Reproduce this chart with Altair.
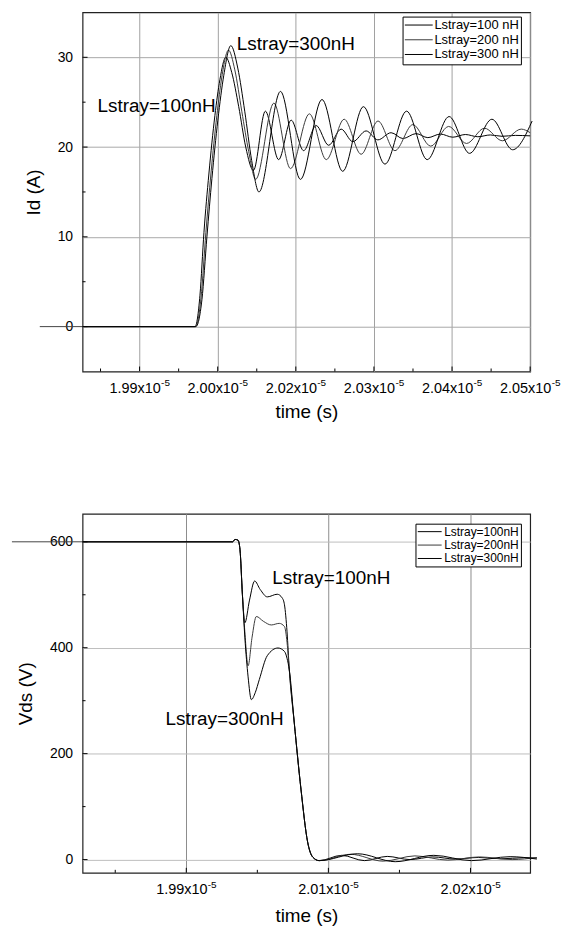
import altair as alt
import pandas as pd

FONT = "Liberation Sans"

# ---------------- top panel: Id (A) vs time (time in ns) ----------------
top_names = ["Lstray=100 nH", "Lstray=200 nH", "Lstray=300 nH"]

id100_t = [19827, 19971, 19977.3, 19982.4, 19988.7, 19996.4, 20002.8, 20010.4, 20018.0, 20026.9, 20035.9, 20045.7,
           20061, 20078, 20094, 20110, 20126, 20142, 20158, 20173, 20190, 20205, 20222, 20237, 20254, 20269,
           20285, 20301, 20317, 20333, 20349, 20364, 20381, 20400]
id100_v = [0, 0, 3.5, 10.5, 17, 23.5, 27.5, 30.0, 28.3, 24.5, 20.0, 17.4,
           24.0, 18.6, 23.0, 19.6, 22.4, 20.2, 22.0, 20.6, 21.8, 20.8, 21.6, 20.95, 21.5, 21.05,
           21.45, 21.1, 21.4, 21.15, 21.35, 21.2, 21.3, 21.25]

id200_t = [19827, 19971.5, 19978.6, 19984.9, 19991.3, 19998.9, 20005.3, 20013.8, 20021.9, 20030.8, 20039.7, 20048.6,
           20071.9, 20093.2, 20117.4, 20139.0, 20161.9, 20183.6, 20205.2, 20226.9, 20249.8, 20272.7, 20295.6,
           20318.5, 20341.5, 20364.4, 20388.6, 20400]
id200_v = [0, 0, 3.2, 10.5, 17, 23.5, 27.8, 30.8, 28.6, 24, 19.5, 16.4,
           24.9, 17.6, 23.7, 18.6, 23.1, 19.2, 22.9, 19.6, 22.5, 20.1, 22.3,
           20.4, 22.1, 20.7, 22.0, 21.6]

id300_t = [19827, 19972, 19979.8, 19986.2, 19992.6, 20000.2, 20007.8, 20016.8, 20025.7, 20034.6, 20043.5, 20052.8,
           20080.4, 20105.9, 20133.5, 20160.0, 20186.5, 20214.1, 20241.8, 20268.2, 20296.2, 20322.4, 20351.0,
           20377.5, 20402.5]
id300_v = [0, 0, 3.0, 10, 16.5, 23, 28, 31.3, 28.8, 24, 18.5, 15.0,
           26.2, 16.4, 25.3, 17.3, 24.5, 18.1, 24.0, 18.6, 23.4, 19.3, 23.1,
           19.7, 22.9]

top_x_major = [19900, 20000, 20100, 20200, 20300, 20400]
top_x_base = ["1.99x10", "2.00x10", "2.02x10", "2.03x10", "2.04x10", "2.05x10"]
top_x_exp = ["-5", "-5", "-5", "-5", "-5", "-5"]
top_x_minor = [19850, 19950, 20050, 20150, 20250, 20350]
top_y_major = [0, 10, 20, 30]
top_y_minor = [5, 15, 25]
top_x_domain = [19827, 20400]
top_y_domain = [-5, 35]

top_notes = ["Lstray=300nH", "Lstray=100nH"]
top_notes_t = [20024.4, 19846.1]
top_notes_v = [31.45, 24.6]

# ---------------- bottom panel: Vds (V) vs time (time in ns) ----------------
bot_names = ["Lstray=100nH", "Lstray=200nH", "Lstray=300nH"]

vds100_t = [19827, 19932.6, 19934.3, 19936.4, 19937.8, 19939.5, 19941.2, 19944.5, 19948.1, 19952, 19957, 19964,
            19967.5, 19969.1, 19970.9, 19972.5, 19976.0, 19980.7, 19985.4, 19988.9, 19993.5, 20009.3, 20025.4,
            20041.4, 20057.4, 20073.5, 20089.5, 20105.6, 20121.6, 20137.7, 20146.7]
vds100_v = [600, 600, 604.5, 603, 585, 500, 447, 490, 526, 510, 496, 501,
            494, 481, 430, 358, 258, 133, 33, 5, -2, 8, -2,
            6, 0, 5, 1, 4, 1.5, 3.5, 3]

vds200_t = [19827, 19932.6, 19934.3, 19936.4, 19937.8, 19939.5, 19941.2, 19943.5, 19946.3, 19949.3, 19954.2, 19959.8,
            19965.4, 19969.1, 19970.9, 19972.5, 19976.0, 19980.7, 19985.4, 19988.9, 19993.5, 20015.6, 20038.6,
            20060.9, 20084.0, 20106.3, 20129.3, 20146.7]
vds200_v = [600, 600, 604.5, 603, 585, 500, 430, 366, 420, 459, 450, 443,
            446, 440, 410, 358, 258, 133, 33, 5, -2, 10, -3,
            7, -1, 5, 0, 4]

vds300_t = [19827, 19932.6, 19934.3, 19936.4, 19937.8, 19939.5, 19941.2, 19943.5, 19945.8, 19948.5, 19951.4, 19957.0,
            19964.5, 19969.1, 19970.9, 19972.5, 19976.0, 19980.7, 19985.4, 19988.9, 19993.5, 20020.5, 20047.0,
            20074.2, 20100.7, 20127.9, 20146.7]
vds300_v = [600, 600, 604.5, 603, 585, 500, 420, 345, 302, 315, 340, 385,
            399.5, 393, 380, 358, 258, 133, 33, 5, -2, 11, -4,
            8, -2, 5.5, 1]

bot_x_major = [19900, 20000, 20100]
bot_x_base = ["1.99x10", "2.01x10", "2.02x10"]
bot_x_exp = ["-5", "-5", "-5"]
bot_x_minor = [19850, 19950, 20050]
bot_y_major = [0, 200, 400, 600]
bot_y_minor = [100, 300, 500]
bot_x_domain = [19827, 20142]
bot_y_domain = [-25, 653]

bot_notes = ["Lstray=100nH", "Lstray=300nH"]
bot_notes_t = [19960.5, 19885.4]
bot_notes_v = [531, 264.6]

W = 450
H = 361


def series_df(names, ts, vs):
    rows = []
    for k, (name, tt, vv) in enumerate(zip(names, ts, vs)):
        for a, b in zip(tt, vv):
            rows.append({"series": name, "t": a, "v": b, "k": k})
    return pd.DataFrame(rows)


def panel(df, names, colors, x_dom, y_dom, x_major, x_base, x_exp, x_minor, y_major, y_minor,
          y_title, notes, notes_t, notes_v, ref_v, ref_x, legend_xy, legend_font, sym_len,
          row_pad, sym_off, lab_off, vgrid, hgrid, title_pad):
    xscale = alt.Scale(domain=x_dom, nice=False, zero=False)
    yscale = alt.Scale(domain=y_dom, nice=False, zero=False)
    xaxis = alt.Axis(values=x_major, labels=False,
                     grid=True, gridColor=vgrid, gridWidth=1, ticks=False, domain=False,
                     titleFontSize=19, titlePadding=title_pad)
    yaxis = alt.Axis(values=y_major, grid=True, gridColor=hgrid, gridWidth=1, ticks=False,
                     domain=False, labelFontSize=14, labelPadding=10, labelFlush=False,
                     titleFontSize=19, titlePadding=14)

    def X():
        return alt.X("t:Q", scale=xscale, title="time (s)", axis=xaxis)

    def Y():
        return alt.Y("v:Q", scale=yscale, title=y_title, axis=yaxis)

    sym_size = (sym_len / 4.0) ** 2          # custom path "M-4,0H4" -> length = 4*sqrt(size)
    lines = alt.Chart(df).mark_line(strokeWidth=1, interpolate="monotone").encode(
        x=X(), y=Y(),
        color=alt.Color("series:N",
                        scale=alt.Scale(domain=names, range=colors),
                        legend=alt.Legend(orient="none", legendX=legend_xy[0], legendY=legend_xy[1],
                                          title=None, strokeColor="black", fillColor="white",
                                          padding=2, labelFontSize=legend_font,
                                          symbolType="M-4,0H4", symbolSize=sym_size,
                                          symbolOffset=sym_off, labelOffset=lab_off,
                                          symbolStrokeWidth=1, rowPadding=row_pad, labelLimit=200)),
        detail="k:N",
        order="t:Q",
    )

    xt_major = pd.DataFrame({"t": x_major, "base": x_base, "exp": x_exp})
    xt_minor = pd.DataFrame({"t": x_minor})
    yt_major = pd.DataFrame({"v": y_major})
    yt_minor = pd.DataFrame({"v": y_minor})

    xtick1 = alt.Chart(xt_major).mark_rule(color="black", strokeWidth=1).encode(
        x=X(), y=alt.value(H), y2=alt.value(H - 5))
    xtick2 = alt.Chart(xt_minor).mark_rule(color="black", strokeWidth=1).encode(
        x=X(), y=alt.value(H), y2=alt.value(H - 3))
    ytick1 = alt.Chart(yt_major).mark_rule(color="black", strokeWidth=1).encode(
        y=Y(), x=alt.value(0), x2=alt.value(5))
    ytick2 = alt.Chart(yt_minor).mark_rule(color="black", strokeWidth=1).encode(
        y=Y(), x=alt.value(0), x2=alt.value(3))

    # x tick labels: mantissa + superscript exponent
    xlab_base = alt.Chart(xt_major).mark_text(align="right", baseline="alphabetic", fontSize=14.5,
                                              font=FONT, color="black", dx=21.3).encode(
        x=X(), y=alt.value(H + 21.5), text="base:N")
    xlab_exp = alt.Chart(xt_major).mark_text(align="left", baseline="alphabetic", fontSize=10,
                                             font=FONT, color="black", dx=21.6).encode(
        x=X(), y=alt.value(H + 14.8), text="exp:N")

    ref = alt.Chart(pd.DataFrame({"v": [ref_v]})).mark_rule(color="#444", strokeWidth=1).encode(
        y=Y(), x=alt.value(ref_x), x2=alt.value(0))

    notes_df = pd.DataFrame({"label": notes, "t": notes_t, "v": notes_v})
    txt = alt.Chart(notes_df).mark_text(align="left", baseline="middle", fontSize=19, font=FONT,
                                        color="black").encode(
        x=X(), y=Y(), text="label:N")

    return alt.layer(lines, ref, xtick1, xtick2, ytick1, ytick2, xlab_base, xlab_exp, txt).properties(
        width=W, height=H)


top_df = series_df(top_names, [id100_t, id200_t, id300_t], [id100_v, id200_v, id300_v])
bot_df = series_df(bot_names, [vds100_t, vds200_t, vds300_t], [vds100_v, vds200_v, vds300_v])

top = panel(top_df, top_names, ["black", "#3a3a3a", "black"], top_x_domain, top_y_domain,
            top_x_major, top_x_base, top_x_exp, top_x_minor, top_y_major, top_y_minor, "Id (A)",
            top_notes, top_notes_t, top_notes_v, 0, -43, (321.7, 4.2), 13, 28, 0.8, 7.8, 9.2,
            "#a0a0a0", "#a8a8a8", 31)
bottom = panel(bot_df, bot_names, ["black", "#3a3a3a", "black"], bot_x_domain, bot_y_domain,
               bot_x_major, bot_x_base, bot_x_exp, bot_x_minor, bot_y_major, bot_y_minor, "Vds (V)",
               bot_notes, bot_notes_t, bot_notes_v, 600, -71, (334.7, 10), 12, 24, 1.5, 6.3, 8.5,
               "#8c8c8c", "#bdbdbd", 34)

chart = alt.vconcat(top, bottom, spacing=143, bounds="flush").resolve_scale(
    color="independent", x="independent", y="independent"
).properties(
    padding={"left": 10, "top": 9, "right": 0, "bottom": 0},
    background="white",
).configure_view(
    stroke="#222222", strokeWidth=1.2
).configure_axis(
    labelFont=FONT, titleFont=FONT, labelColor="black", titleColor="black",
    titleFontWeight="normal"
).configure_legend(
    labelFont=FONT, labelColor="black"
)

chart.save("out.html", embed_options={"renderer": "svg", "actions": False})
